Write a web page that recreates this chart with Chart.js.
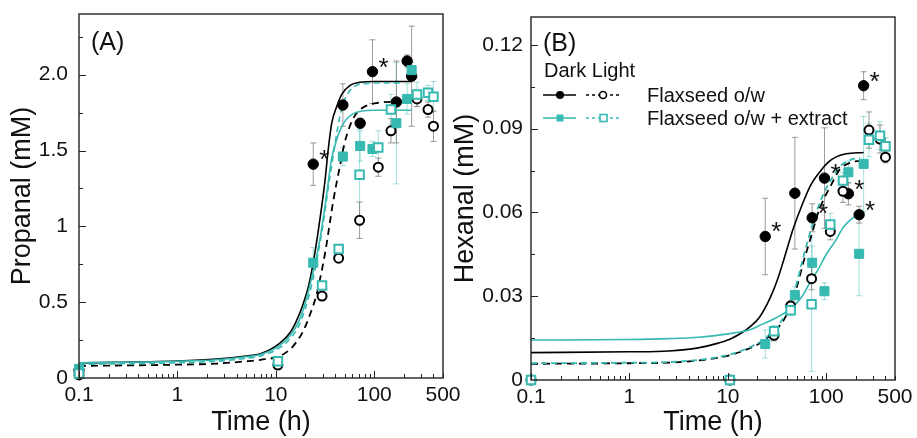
<!DOCTYPE html>
<html><head><meta charset="utf-8">
<script src="https://cdn.jsdelivr.net/npm/chart.js@4.4.0/dist/chart.umd.min.js"></script>
<style>
html,body{margin:0;padding:0;background:#fff;width:917px;height:438px;overflow:hidden;}
.p{position:absolute;top:0;}
</style></head><body>
<div class="p" style="left:0;width:460px;height:438px"><canvas id="cA" width="460" height="438"></canvas></div>
<div class="p" style="left:440px;width:477px;height:438px"><canvas id="cB" width="477" height="438"></canvas></div>
<script>
// ---------- shared axis data ----------
const timeDark  = [0.1, 24, 48, 72, 96, 168, 216, 240];
const timeLight = [0.1, 10.5, 29.5, 43.5, 71, 110, 148, 272, 352, 400];
const xTicks = [0.1, 1, 10, 100, 500];
const xTickLabels = ['0.1', '1', '10', '100', '500'];

// ---------- Panel A: Propanal ----------
const propTicks = [0, 0.5, 1, 1.5, 2];
const propTickLabels = ['0', '0.5', '1', '1.5', '2.0'];
const propDarkFlax     = [0.05, 1.41, 1.80, 1.68, 2.02, 1.82, 2.09, 1.99];
const propDarkFlaxErr  = [0, 0.14, 0.14, 0.03, 0.21, 0.27, 0.04, 0.33];
const propDarkFlaxStar = [false, true, false, false, true, false, false, false];
const propDarkExt      = [0.06, 0.76, 1.46, 1.53, 1.51, 1.68, 1.84, 2.03];
const propDarkExtErr   = [0, 0.10, 0.06, 0.10, 0.05, 0.40, 0.10, 0.05];
const propLightFlax    = [0.02, 0.085, 0.54, 0.79, 1.04, 1.39, 1.63, 1.84, 1.77, 1.66];
const propLightFlaxErr = [0, 0.01, 0.02, 0.02, 0.12, 0.06, 0.08, 0.05, 0.05, 0.10];
const propLightExt     = [0.03, 0.11, 0.61, 0.85, 1.34, 1.52, 1.77, 1.87, 1.88, 1.855];
const propLightExtErr  = [0, 0.01, 0.02, 0.02, 0.30, 0.11, 0.10, 0.08, 0.05, 0.10];
// fitted curves
const propFitDarkFlaxT  = [0.1, 1, 2.5, 5, 7, 11, 14, 16.3, 19, 21.4, 24, 27, 31.6, 34, 37, 41.6, 46.8, 56.8, 72, 100, 150, 240];
const propFitDarkFlax   = [0.10, 0.112, 0.125, 0.145, 0.16, 0.23, 0.30, 0.38, 0.49, 0.60, 0.76, 0.97, 1.30, 1.50, 1.68, 1.79, 1.87, 1.93, 1.95, 1.955, 1.955, 1.955];
const propFitDarkExtT   = [0.1, 1, 2.5, 5, 7, 11, 14, 17, 20, 23.5, 26.5, 29, 33, 37, 43, 50, 60, 75, 100, 150, 240];
const propFitDarkExt    = [0.10, 0.11, 0.12, 0.14, 0.155, 0.215, 0.28, 0.37, 0.50, 0.68, 0.83, 0.97, 1.22, 1.45, 1.60, 1.69, 1.74, 1.76, 1.765, 1.765, 1.765];
const propFitLightExtT  = [0.1, 1, 2.5, 5, 7, 11, 14, 17, 20, 23.7, 27, 30, 34, 38, 44.6, 50.5, 66, 80, 100, 150, 190];
const propFitLightExt   = [0.09, 0.10, 0.11, 0.13, 0.145, 0.20, 0.26, 0.34, 0.46, 0.645, 0.83, 1.0, 1.25, 1.45, 1.72, 1.84, 1.93, 1.94, 1.945, 1.945, 1.945];
const propFitLightFlaxT = [0.1, 1, 2.5, 5, 7, 11, 14, 16.3, 19, 22.3, 25.7, 28.3, 32, 38.4, 44.6, 50, 60, 72, 100, 150, 210];
const propFitLightFlax  = [0.08, 0.088, 0.095, 0.11, 0.12, 0.145, 0.19, 0.24, 0.31, 0.42, 0.54, 0.66, 0.84, 1.17, 1.39, 1.55, 1.70, 1.77, 1.81, 1.82, 1.82];

// ---------- Panel B: Hexanal ----------
const hexTicks = [0, 0.03, 0.06, 0.09, 0.12];
const hexTickLabels = ['0', '0.03', '0.06', '0.09', '0.12'];
const hexDarkFlax     = [null, 0.0514, 0.0669, 0.0581, 0.0723, 0.0667, 0.0592, 0.1054];
const hexDarkFlaxErr  = [0, 0.0137, 0.020, 0.005, 0.018, 0.004, 0.003, 0.005];
const hexDarkFlaxStar = [false, true, false, true, true, true, true, true];
const hexDarkExt      = [null, 0.0129, 0.0304, 0.042, 0.0318, 0.0744, 0.0452, 0.0774];
const hexDarkExtErr   = [0, 0.005, 0.003, 0.006, 0.003, 0.004, 0.015, 0.017];
const hexLightFlax    = [0, 0, 0.016, 0.0265, 0.0363, 0.0532, 0.0676, 0.0895, 0.0863, 0.0798];
const hexLightFlaxErr = [0, 0, 0.002, 0.002, 0.004, 0.003, 0.004, 0.0065, 0.005, 0.002];
const hexLightExt     = [0, 0, 0.0175, 0.025, 0.0271, 0.0557, 0.0714, 0.086, 0.0875, 0.0837];
const hexLightExtErr  = [0, 0, 0.002, 0.002, 0.024, 0.004, 0.003, 0.006, 0.005, 0.003];
const hexFitDarkFlaxT  = [0.1, 1, 2.5, 5, 8, 10.5, 14, 17, 21, 27, 32, 37, 46, 58, 70, 86, 105, 128, 160, 240];
const hexFitDarkFlax   = [0.0098, 0.0101, 0.0104, 0.0115, 0.0132, 0.0146, 0.017, 0.0192, 0.0225, 0.0295, 0.036, 0.043, 0.054, 0.0635, 0.070, 0.0745, 0.078, 0.080, 0.081, 0.0815];
const hexFitDarkExtT   = [0.1, 1, 2.5, 5, 10.5, 16.8, 21, 30, 43, 57, 71, 81, 101, 125, 149, 185, 220, 240];
const hexFitDarkExt    = [0.0143, 0.0145, 0.0148, 0.0153, 0.0166, 0.0180, 0.0195, 0.0220, 0.0255, 0.030, 0.036, 0.039, 0.0452, 0.050, 0.0547, 0.058, 0.0595, 0.060];
const hexFitLightT     = [0.1, 1, 2.5, 5, 8, 10.5, 15, 21, 26, 31, 37, 43, 50, 58.5, 71, 83, 95, 109, 138, 181, 220];
const hexFitLightFlax  = [0.0058, 0.006, 0.0062, 0.007, 0.008, 0.0089, 0.0107, 0.0131, 0.0155, 0.018, 0.0215, 0.0262, 0.033, 0.042, 0.052, 0.060, 0.065, 0.069, 0.0755, 0.078, 0.0785];
const hexFitLightExt   = [0.006, 0.0062, 0.0064, 0.0072, 0.0082, 0.0091, 0.011, 0.0135, 0.016, 0.0188, 0.0225, 0.0275, 0.0345, 0.044, 0.0545, 0.062, 0.067, 0.071, 0.0765, 0.079, 0.0795];

// ---------- styling ----------
const FONT = '"Liberation Sans", Arial, Helvetica, sans-serif';
const TEAL = '#36b9b1';
const INK = '#111';

function pts(xs, ys) { return xs.map((x, i) => ({ x: x, y: ys[i] })); }
function fit(xs, ys, color, dash, w) {
  return { data: pts(xs, ys), showLine: true, borderColor: color, borderWidth: w,
           borderDash: dash, pointRadius: 0, pointHoverRadius: 0,
           cubicInterpolationMode: 'monotone', fill: false };
}
function marks(xs, ys, errs, kind, stars) {
  const teal = kind.indexOf('sq') >= 0;
  const open = kind.indexOf('open') >= 0;
  const col = teal ? TEAL : '#000';
  return { data: pts(xs, ys), showLine: false, clip: false,
    pointStyle: teal ? 'rect' : 'circle',
    pointRadius: teal ? (open ? 6 : 6.4) : (open ? 4.5 : 5.2),
    pointHoverRadius: teal ? 6 : 5,
    pointBackgroundColor: open ? '#fff' : col,
    pointBorderColor: col, pointBorderWidth: open ? 2 : 1,
    errors: errs, errColor: teal ? 'rgba(54,185,177,0.45)' : 'rgba(120,120,120,0.75)',
    stars: stars || null };
}

const errBars = {
  id: 'errBars',
  beforeDatasetsDraw(chart) {
    const { ctx, scales: { x, y } } = chart;
    chart.data.datasets.forEach(ds => {
      if (!ds.errors) return;
      ctx.save(); ctx.strokeStyle = ds.errColor; ctx.lineWidth = 1;
      ds.data.forEach((p, i) => {
        const e = ds.errors[i];
        if (!e || p.y == null) return;
        const px = x.getPixelForValue(p.x);
        const y1 = y.getPixelForValue(p.y + e), y2 = y.getPixelForValue(p.y - e);
        ctx.beginPath();
        ctx.moveTo(px, y1); ctx.lineTo(px, y2);
        ctx.moveTo(px - 3, y1); ctx.lineTo(px + 3, y1);
        ctx.moveTo(px - 3, y2); ctx.lineTo(px + 3, y2);
        ctx.stroke();
      });
      ctx.restore();
    });
  }
};

const stars = {
  id: 'stars',
  afterDatasetsDraw(chart) {
    const { ctx, scales: { x, y } } = chart;
    ctx.save();
    ctx.fillStyle = INK; ctx.font = '26px ' + FONT;
    ctx.textAlign = 'center'; ctx.textBaseline = 'alphabetic';
    const m = ctx.measureText('*');
    const mid = (m.actualBoundingBoxAscent - m.actualBoundingBoxDescent) / 2;
    chart.data.datasets.forEach(ds => {
      if (!ds.stars) return;
      ds.data.forEach((p, i) => {
        if (!ds.stars[i] || p.y == null) return;
        const px = x.getPixelForValue(p.x) + 11, py = y.getPixelForValue(p.y) - 9;
        ctx.fillText('*', px, py + mid);
      });
    });
    ctx.restore();
  }
};

const frame = {
  id: 'frame',
  afterDatasetsDraw(chart, args, opts) {
    const { ctx, chartArea: a, scales: { x, y } } = chart;
    ctx.save();
    ctx.strokeStyle = '#222'; ctx.lineWidth = 1.4;
    ctx.strokeRect(a.left, a.top, a.right - a.left, a.bottom - a.top);
    ctx.lineWidth = 1;
    ctx.beginPath();
    for (let d = -1; d <= 2; d++) {
      for (let k = 1; k <= 9; k++) {
        const v = k * Math.pow(10, d);
        if (v < 0.1 - 1e-9 || v > 500 + 1e-9) continue;
        const px = Math.round(x.getPixelForValue(v)) + 0.5;
        const len = k === 1 ? 7 : 4;
        ctx.moveTo(px, a.bottom); ctx.lineTo(px, a.bottom - len);
      }
    }
    for (let i = 1; i * opts.minor <= y.max + 1e-9; i++) {
      const v = i * opts.minor;
      const py = Math.round(y.getPixelForValue(v)) + 0.5;
      const len = i % 2 === 0 ? 7 : 4;
      ctx.moveTo(a.left, py); ctx.lineTo(a.left + len, py);
    }
    ctx.stroke();
    ctx.restore();
  }
};

const deco = {
  id: 'deco',
  afterDraw(chart, args, o) {
    const ctx = chart.ctx;
    ctx.save();
    ctx.fillStyle = INK; ctx.textBaseline = 'alphabetic'; ctx.textAlign = 'left';
    ctx.font = '25px ' + FONT;
    ctx.fillText(o.label, o.lx, o.ly);
    if (o.legend) {
      const L = o.legend;
      ctx.font = '20px ' + FONT;
      ctx.fillText('Dark Light', L.x, L.y0);
      const rows = [
        { y: L.y1, c: '#000', sq: false, txt: 'Flaxseed o/w' },
        { y: L.y2, c: TEAL, sq: true, txt: 'Flaxseed o/w + extract' }
      ];
      rows.forEach(r => {
        ctx.strokeStyle = r.c; ctx.lineWidth = 1.3;
        ctx.setLineDash([]);
        ctx.beginPath(); ctx.moveTo(L.x - 1, r.y); ctx.lineTo(L.x + 32, r.y); ctx.stroke();
        ctx.setLineDash([3, 3]);
        ctx.beginPath(); ctx.moveTo(L.x + 42, r.y); ctx.lineTo(L.x + 76, r.y); ctx.stroke();
        ctx.setLineDash([]);
        ctx.fillStyle = r.c;
        if (r.sq) { ctx.fillRect(L.x + 12.5, r.y - 3.5, 7, 7); }
        else { ctx.beginPath(); ctx.arc(L.x + 16, r.y, 4, 0, Math.PI * 2); ctx.fill(); }
        ctx.fillStyle = '#fff'; ctx.lineWidth = 1.6;
        if (r.sq) { ctx.fillRect(L.x + 56, r.y - 3.5, 7, 7); ctx.strokeRect(L.x + 56, r.y - 3.5, 7, 7); }
        else { ctx.beginPath(); ctx.arc(L.x + 59, r.y, 3.5, 0, Math.PI * 2); ctx.fill(); ctx.stroke(); }
        ctx.fillStyle = INK; ctx.textBaseline = 'middle';
        ctx.fillText(r.txt, L.x + 103, r.y + 1);
        ctx.textBaseline = 'alphabetic';
      });
    }
    ctx.restore();
  }
};

function noPad(s) { s.paddingTop = 0; s.paddingBottom = 0; s.paddingLeft = 0; s.paddingRight = 0; }

function makeChart(id, cfg) {
  return new Chart(document.getElementById(id), {
    type: 'scatter',
    data: { datasets: cfg.datasets },
    options: {
      responsive: false, animation: false, devicePixelRatio: 1,
      layout: { padding: cfg.pad },
      plugins: { legend: { display: false }, tooltip: { enabled: false },
                 frame: { minor: cfg.minor }, deco: cfg.deco },
      scales: {
        x: { type: 'logarithmic', min: 0.1, max: 500,
             afterBuildTicks: s => { s.ticks = xTicks.map(v => ({ value: v })); },
             afterFit: s => { s.height = cfg.xH; noPad(s); },
             ticks: { autoSkip: false, maxRotation: 0, padding: 5, color: INK,
                      font: { family: FONT, size: 21 },
                      callback: (v, i) => xTickLabels[i] },
             grid: { display: false, drawTicks: false },
             border: { display: false },
             title: { display: true, text: 'Time (h)', color: INK,
                      font: { family: FONT, size: 27, lineHeight: 1 },
                      padding: { top: 0, bottom: 2 } } },
        y: { type: 'linear', min: 0, max: cfg.yMax,
             afterBuildTicks: s => { s.ticks = cfg.yTicks.map(v => ({ value: v })); },
             afterFit: s => { s.width = cfg.yW; noPad(s); },
             ticks: { autoSkip: false, padding: cfg.yPad, color: INK,
                      font: { family: FONT, size: 21 },
                      callback: (v, i) => cfg.yLabels[i] },
             grid: { display: false, drawTicks: false },
             border: { display: false },
             title: { display: true, text: cfg.yTitle, color: INK,
                      font: { family: FONT, size: 27, lineHeight: 1 },
                      padding: { top: cfg.yTitlePad, bottom: 0 } } }
      }
    },
    plugins: [errBars, frame, stars, deco]
  });
}

makeChart('cA', {
  pad: { left: 0, right: 17, top: 14, bottom: 0 }, xH: 60, yW: 79, yPad: 11, yTitlePad: 9,
  yMax: 2.4, yTicks: propTicks, yLabels: propTickLabels, yTitle: 'Propanal (mM)', minor: 0.25,
  deco: { label: '(A)', lx: 91, ly: 50 },
  datasets: [
    marks(timeLight, propLightExt, propLightExtErr, 'sq open'),
    marks(timeDark, propDarkExt, propDarkExtErr, 'sq'),
    marks(timeLight, propLightFlax, propLightFlaxErr, 'circ open'),
    marks(timeDark, propDarkFlax, propDarkFlaxErr, 'circ', propDarkFlaxStar),
    fit(propFitDarkExtT, propFitDarkExt, TEAL, [], 1.6),
    fit(propFitLightExtT, propFitLightExt, TEAL, [6, 4], 1.6),
    fit(propFitDarkFlaxT, propFitDarkFlax, '#000', [], 1.6),
    fit(propFitLightFlaxT, propFitLightFlax, '#000', [7, 5], 1.8)
  ]
});

makeChart('cB', {
  pad: { left: 0, right: 22, top: 17, bottom: 0 }, xH: 58, yW: 91, yPad: 8, yTitlePad: 12,
  yMax: 0.13, yTicks: hexTicks, yLabels: hexTickLabels, yTitle: 'Hexanal (mM)', minor: 0.015,
  deco: { label: '(B)', lx: 103, ly: 51, legend: { x: 104, y0: 77, y1: 95, y2: 118 } },
  datasets: [
    marks(timeLight, hexLightExt, hexLightExtErr, 'sq open'),
    marks(timeDark, hexDarkExt, hexDarkExtErr, 'sq'),
    marks(timeLight, hexLightFlax, hexLightFlaxErr, 'circ open'),
    marks(timeDark, hexDarkFlax, hexDarkFlaxErr, 'circ', hexDarkFlaxStar),
    fit(hexFitDarkExtT, hexFitDarkExt, TEAL, [], 1.6),
    fit(hexFitLightT, hexFitLightExt, TEAL, [6, 4], 1.8),
    fit(hexFitDarkFlaxT, hexFitDarkFlax, '#000', [], 1.6),
    fit(hexFitLightT, hexFitLightFlax, '#000', [7, 5], 1.8)
  ]
});
</script>
</body></html>
